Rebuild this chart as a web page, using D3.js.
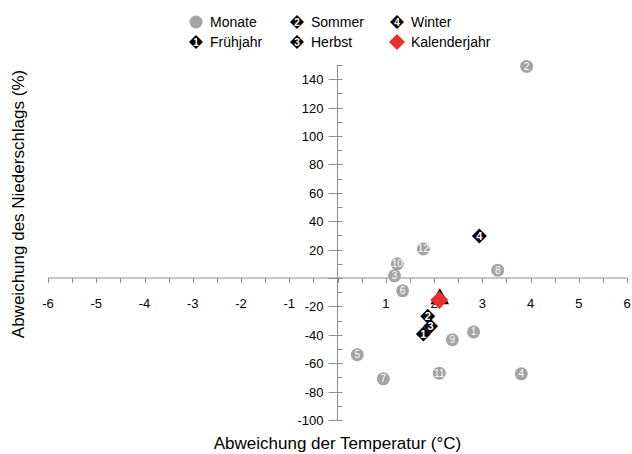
<!DOCTYPE html>
<html>
<head>
<meta charset="utf-8">
<script src="https://cdn.jsdelivr.net/npm/d3@7"></script>
<style>
body { margin: 0; background: #fff; }
text { font-family: "Liberation Sans", Arial, sans-serif; }
</style>
</head>
<body>
<script>
// Monate
var monthNames = ["1", "2", "3", "4", "5", "6", "7", "8", "9", "10", "11", "12"];
var monthTemp = [2.82, 3.92, 1.18, 3.81, 0.41, 1.35, 0.95, 3.32, 2.38, 1.24, 2.11, 1.78];
var monthPrec = [-38, 149, 1.5, -67.5, -54, -9, -71, 5.5, -43.5, 10, -67, 20.5];

// Jahreszeiten
var seasonNames = ["1", "2", "3", "4"];
var seasonTemp = [1.78, 1.87, 1.93, 2.94];
var seasonPrec = [-39.5, -27, -34, 29.5];

// Kalenderjahr
var yearTemp = [2.11];
var yearPrec = [-15.5];
var triTemp = [2.12];
var triPrec = [-14];

var xTicks = [-6, -5, -4, -3, -2, -1, 1, 2, 3, 4, 5, 6];
var yTicks = [-100, -80, -60, -40, -20, 20, 40, 60, 80, 100, 120, 140];

var width = 632,
    height = 454;

var svg = d3.select("body").append("svg")
    .attr("width", width)
    .attr("height", height);

var x = d3.scaleLinear().domain([-6, 6]).range([48, 627]);
var y = d3.scaleLinear().domain([-100, 150]).range([420, 65]);

var axisColor = "#8c8c8c";

// x axis
var gx = svg.append("g");
gx.append("line")
    .attr("x1", x(-6)).attr("x2", x(6))
    .attr("y1", y(0)).attr("y2", y(0))
    .attr("stroke", axisColor);
gx.selectAll(".tick")
    .data(d3.range(-12, 13).map(function(d) { return d / 2; }))
    .enter().append("line")
    .attr("x1", function(d) { return Math.round(x(d)) + 0.5; })
    .attr("x2", function(d) { return Math.round(x(d)) + 0.5; })
    .attr("y1", y(0)).attr("y2", y(0) + 5)
    .attr("stroke", axisColor);
gx.selectAll("text")
    .data(xTicks)
    .enter().append("text")
    .attr("x", function(d) { return x(d); })
    .attr("y", y(0) + 30)
    .attr("text-anchor", "middle")
    .attr("font-size", 13)
    .text(function(d) { return d; });

// y axis
var gy = svg.append("g");
gy.append("line")
    .attr("x1", x(0)).attr("x2", x(0))
    .attr("y1", y(150)).attr("y2", y(-100))
    .attr("stroke", axisColor);
gy.selectAll(".minor")
    .data(d3.range(-100, 151, 10))
    .enter().append("line")
    .attr("x1", x(0))
    .attr("x2", function(d) { return d % 20 === 0 ? x(0) - 9 : x(0) + 5; })
    .attr("y1", function(d) { return Math.round(y(d)) + 0.5; })
    .attr("y2", function(d) { return Math.round(y(d)) + 0.5; })
    .attr("stroke", axisColor);
gy.selectAll(".major")
    .data(d3.range(-100, 151, 20))
    .enter().append("line")
    .attr("x1", x(0)).attr("x2", x(0) + 5)
    .attr("y1", function(d) { return Math.round(y(d)) + 0.5; })
    .attr("y2", function(d) { return Math.round(y(d)) + 0.5; })
    .attr("stroke", axisColor);
gy.selectAll("text")
    .data(yTicks)
    .enter().append("text")
    .attr("x", x(0) - 14)
    .attr("y", function(d) { return y(d) + 5; })
    .attr("text-anchor", "end")
    .attr("font-size", 13)
    .text(function(d) { return d; });

// axis titles
svg.append("text")
    .attr("x", x(0))
    .attr("y", 449)
    .attr("text-anchor", "middle")
    .attr("font-size", 17)
    .text("Abweichung der Temperatur (°C)");
svg.append("text")
    .attr("transform", "translate(24,204) rotate(-90)")
    .attr("text-anchor", "middle")
    .attr("font-size", 17)
    .text("Abweichung des Niederschlags (%)");

function diamond(g, s, fill) {
    g.append("path")
        .attr("d", "M0," + (-s) + "L" + s + ",0L0," + s + "L" + (-s) + ",0Z")
        .attr("fill", fill);
}

// Monate
var months = svg.append("g").selectAll("g")
    .data(monthNames)
    .enter().append("g")
    .attr("transform", function(d, i) { return "translate(" + x(monthTemp[i]) + "," + y(monthPrec[i]) + ")"; });
months.append("circle").attr("r", 6.5).attr("fill", "#a3a3a3");
months.append("text")
    .attr("y", 3.5)
    .attr("text-anchor", "middle")
    .attr("font-size", 10)
    .attr("fill", "#fff")
    .text(function(d) { return d; });

// Kalenderjahr (Dreieck + Raute)
svg.append("path")
    .attr("d", d3.symbol().type(d3.symbolTriangle).size(150))
    .attr("transform", "translate(" + x(triTemp[0]) + "," + (y(triPrec[0]) + 1) + ")")
    .attr("fill", "#000");
var yr = svg.append("g")
    .attr("transform", "translate(" + x(yearTemp[0]) + "," + y(yearPrec[0]) + ")");
diamond(yr, 9, "#e8312f");

// Jahreszeiten
var seasons = svg.append("g").selectAll("g")
    .data(seasonNames)
    .enter().append("g")
    .attr("transform", function(d, i) { return "translate(" + x(seasonTemp[i]) + "," + y(seasonPrec[i]) + ")"; });
seasons.each(function() { diamond(d3.select(this), 7.5, "#000"); });
seasons.append("text")
    .attr("y", 4)
    .attr("text-anchor", "middle")
    .attr("font-size", 11)
    .attr("font-weight", "bold")
    .attr("fill", "#fff")
    .text(function(d) { return d; });

// Legende
var legendItems = [
    {name: "Monate", type: "circle", x: 196, y: 22},
    {name: "Sommer", type: "season", label: "2", x: 297, y: 22},
    {name: "Winter", type: "season", label: "4", x: 397, y: 22},
    {name: "Frühjahr", type: "season", label: "1", x: 196, y: 42},
    {name: "Herbst", type: "season", label: "3", x: 297, y: 42},
    {name: "Kalenderjahr", type: "year", x: 397, y: 42}
];
var leg = svg.append("g").selectAll("g")
    .data(legendItems)
    .enter().append("g")
    .attr("transform", function(d) { return "translate(" + d.x + "," + d.y + ")"; });
leg.each(function(d) {
    var g = d3.select(this);
    if (d.type === "circle") {
        g.append("circle").attr("r", 6.5).attr("fill", "#a3a3a3");
    } else if (d.type === "season") {
        diamond(g, 7, "#000");
        g.append("text").attr("y", 4).attr("text-anchor", "middle")
            .attr("font-size", 10).attr("font-weight", "bold").attr("fill", "#fff").text(d.label);
    } else {
        diamond(g, 8, "#e8312f");
    }
    g.append("text")
        .attr("x", 14).attr("y", 5)
        .attr("font-size", 14)
        .text(d.name);
});
</script>
</body>
</html>
